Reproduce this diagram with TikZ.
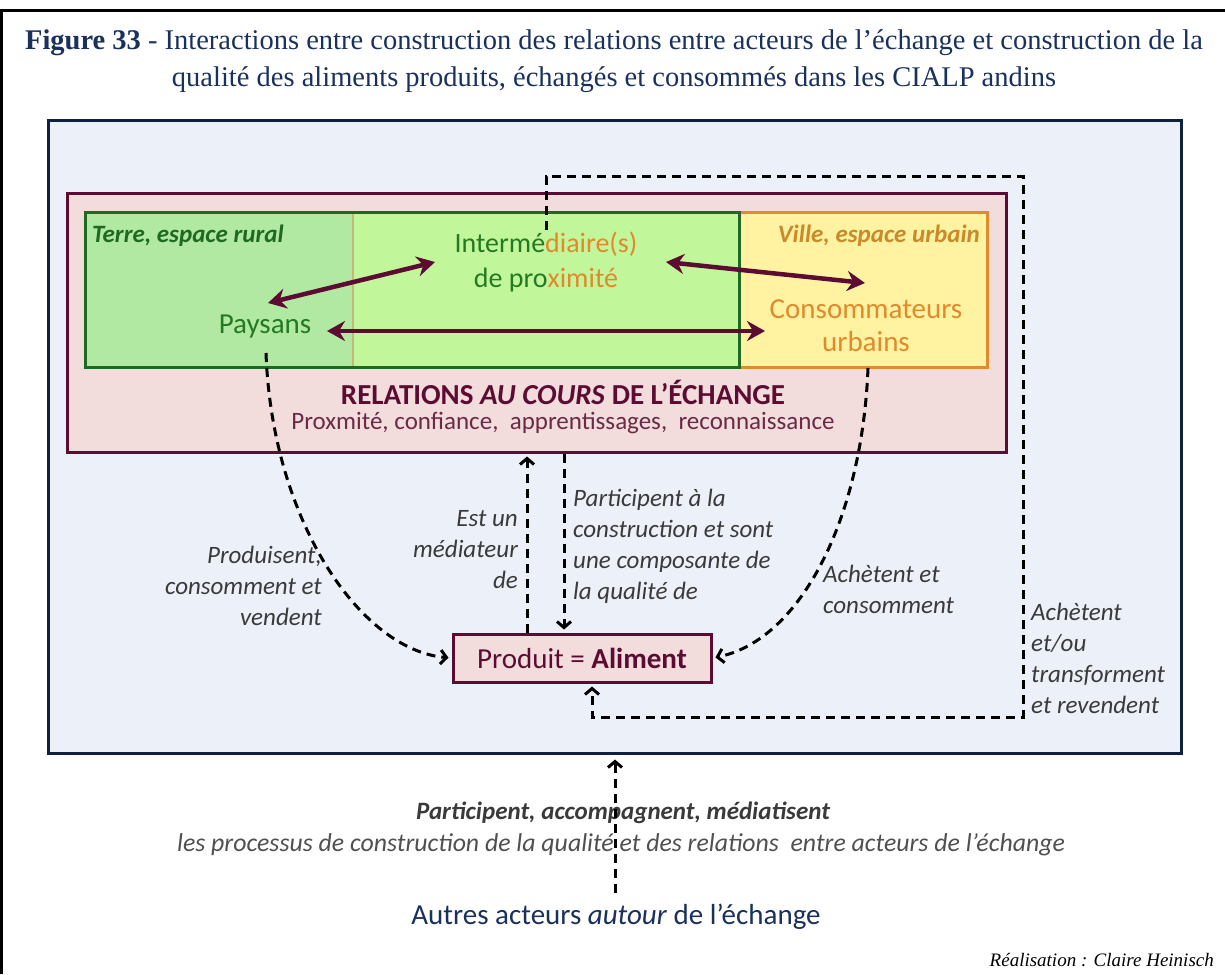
\documentclass[tikz,border=0pt]{standalone}
\usepackage{fontspec}
\setmainfont{Carlito}
\newfontfamily\titlefont{Liberation Serif}
\usetikzlibrary{arrows.meta,calc}
\definecolor{navy}{HTML}{1A315E}
\definecolor{boxblue}{HTML}{ECF0F8}
\definecolor{boxnavy}{HTML}{10203F}
\definecolor{pinkfill}{HTML}{F2DCDC}
\definecolor{maroon}{HTML}{5C0C32}
\definecolor{softmaroon}{HTML}{6A2A48}
\definecolor{greenL}{HTML}{B2E9A2}
\definecolor{greenR}{HTML}{C2F69A}
\definecolor{greenline}{HTML}{1F6A22}
\definecolor{greentext}{HTML}{237A22}
\definecolor{yellowfill}{HTML}{FFF3A2}
\definecolor{orangeline}{HTML}{E08C2E}
\definecolor{orangetext}{HTML}{E08A2C}
\definecolor{villetext}{HTML}{C98A2C}
\definecolor{labelgray}{HTML}{3A3A3A}
\definecolor{procgray}{HTML}{505050}
\definecolor{divider}{HTML}{C9B57A}
\newcommand\fsz[2]{\fontsize{#1}{#2}\selectfont}
\tikzset{
  bigarrow/.style={draw=maroon, line width=4.5pt,
    {Stealth[length=18pt,width=20pt,inset=6pt]}-{Stealth[length=18pt,width=20pt,inset=6pt]}},
  dasharrow/.style={draw=black, line width=3pt, dash pattern=on 9pt off 6pt,
    -{Straight Barb[length=6pt,width=14pt]}, shorten >=3pt},
  lab/.style={text=labelgray, font=\fsz{25}{31}\itshape, inner sep=0pt},
  txt/.style={inner sep=2pt},
}
\begin{document}
\begin{tikzpicture}[x=1pt,y=-1pt]
\useasboundingbox (0,0) rectangle (1225,974);
\fill[white] (0,0) rectangle (1225,974);
\draw[line width=3pt] (1.5,974) -- (1.5,11) -- (1225,11);

% title
\node[txt, font=\titlefont\fsz{28.5}{37}, text=navy, align=center] (title) at (614,61.5)
  {\textbf{Figure 33} - Interactions entre construction des relations entre acteurs de l’échange et construction de la\\qualité des aliments produits, échangés et consommés dans les CIALP andins};

% outer frame
\node[draw=boxnavy, fill=boxblue, line width=3pt, minimum width=1133pt, minimum height=633pt, inner sep=0pt] (frame) at (614.5,436.5) {};

% relations box
\node[draw=maroon, fill=pinkfill, line width=3pt, minimum width=939pt, minimum height=259pt, inner sep=0pt] (relations) at (536.5,322.5) {};

% rural / urban boxes
\fill[greenL] (85,212) rectangle (353,367);
\fill[greenR] (353,212) rectangle (739,367);
\draw[divider, line width=1.5pt] (353,213) -- (353,366);
\draw[orangeline, fill=yellowfill, line width=3pt] (739,212) rectangle (987,367);
\draw[greenline, line width=3pt] (85,212) rectangle (739,367);

\node[txt, font=\fsz{25}{28}\bfseries\itshape, text=greenline, anchor=west] (terre) at (90,236) {Terre, espace rural};
\node[txt, font=\fsz{25}{28}\bfseries\itshape, text=villetext, anchor=east] (ville) at (982,236) {Ville, espace urbain};

\node[txt, font=\fsz{28}{35}, align=center] (inter) at (546,262)
  {\textcolor{greentext}{Intermé}\textcolor{orangetext}{diaire(s)}\\\textcolor{greentext}{de pro}\textcolor{orangetext}{ximité}};
\node[txt, font=\fsz{29}{34}, text=greentext] (paysans) at (265,327) {Paysans};
\node[txt, font=\fsz{29}{33}, text=orangetext, align=center] (conso) at (866,326) {Consommateurs\\urbains};

\node[txt, font=\fsz{29}{32}\bfseries, text=maroon] (relT) at (563,392) {RELATIONS \textit{AU COURS} DE L’ÉCHANGE};
\node[txt, font=\fsz{25}{28}, text=softmaroon] (relS) at (563,423) {Proxmité, confiance, \ apprentissages, \ reconnaissance};

\draw[bigarrow] ($(paysans)+(3,-24)$) -- ($(inter)+(-111,0)$);
\draw[bigarrow] ($(inter)+(120,0)$) -- ($(conso)+(-1,-43)$);
\draw[bigarrow] ($(paysans)+(62,4)$) -- ($(conso)+(-101,5)$);

% product box
\node[draw=maroon, fill=pinkfill, line width=3pt, minimum width=258pt, minimum height=48pt, inner sep=0pt,
      font=\fsz{29}{34}, text=maroon] (box) at (582,658) {Produit = \textbf{Aliment}};

% dashed connectors
\draw[dasharrow] ($(paysans)+(1,26)$) .. controls (272,520) and (360,650) .. (box.west);
\draw[dasharrow] ($(conso)+(2,42)$) .. controls (862,520) and (800,640) .. (box.east);
\draw[dasharrow] ([xshift=-55pt]box.north) -- ([xshift=-55pt]box.north |- relations.south);
\draw[dasharrow] ([xshift=-18pt]box.north |- relations.south) -- ([xshift=-18pt]box.north);
\coordinate (loopNE) at (1023,176);
\coordinate (loopSE) at (1023,717);
\draw[dasharrow] (inter.north) |- (loopNE) -- (loopSE) -| ([xshift=10pt]box.south);

% labels
\node[lab, align=right, anchor=east] (l1) at (322,586) {Produisent,\\consomment et\\vendent};
\node[lab, align=right, anchor=east] (l2) at (518,550) {Est un\\médiateur\\de};
\node[lab, align=left, anchor=west] (l3) at (573,546) {Participent à la\\construction et sont\\une composante de\\la qualité de};
\node[lab, align=left, anchor=west] (l4) at (823,589) {Achètent et\\consomment};
\node[lab, align=left, anchor=west] (l5) at (1031,658) {Achètent\\et/ou\\transforment\\et revendent};

% bottom
\node[txt, font=\fsz{25}{30}\bfseries\itshape, text=labelgray] (part) at (623,813) {Participent, accompagnent, médiatisent};
\node[txt, font=\fsz{25.8}{30}\itshape, text=procgray] (proc) at (621,845) {les processus de construction de la qualité et des relations \ entre acteurs de l’échange};
\node[txt, font=\fsz{29}{34}, text=navy] (autres) at (616,917) {Autres acteurs \textit{autour} de l’échange};
\draw[dasharrow, shorten >=5pt] ([xshift=-1pt,yshift=9pt]autres.north) -- ([xshift=-1pt]autres.north |- frame.south);
\node[txt, font=\titlefont\fsz{19}{22}\itshape, anchor=east] (real) at (1216,960) {Réalisation : Claire Heinisch};
\end{tikzpicture}
\end{document}
